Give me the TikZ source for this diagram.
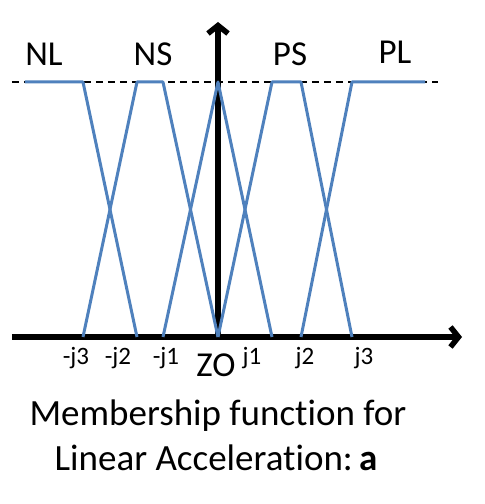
\documentclass[tikz,border=0pt]{standalone}
\usepackage{fontspec}
\setmainfont{Carlito}[Ligatures=NoCommon]
\usepackage{tikz}
\usetikzlibrary{arrows.meta,positioning}

\definecolor{mfblue}{HTML}{4F81BD}

\tikzset{
  mf/.style = {draw=mfblue, line width=3pt, line join=round},
  axis/.style = {line width=5.5pt, -{Straight Barb[length=8pt,width=20pt]}},
  lbl/.style = {font=\fontsize{35}{40}\selectfont, anchor=base, inner sep=0pt},
  tick/.style = {font=\fontsize{25}{28}\selectfont, anchor=base, inner sep=0pt},
  caption/.style = {font=\fontsize{37}{44}\selectfont, anchor=base, inner sep=0pt},
}

\begin{document}
\begin{tikzpicture}[x=1pt, y=1pt]
  \useasboundingbox (-218,-167) rectangle (267,337);

  % points on the axis
  \coordinate (o) at (0,0);
  \coordinate (mj3) at (-135,0);
  \coordinate (mj2) at (-81,0);
  \coordinate (mj1) at (-55,0);
  \coordinate (j1) at (54,0);
  \coordinate (j2) at (83,0);
  \coordinate (j3) at (134,0);
  \coordinate (xl) at (-206,0);
  \coordinate (xr) at (244,0);
  \coordinate (yt) at (0,315);

  % full membership level
  \coordinate (t) at (0,255);
  \coordinate (dl) at (-206,255);
  \coordinate (dr) at (220,255);

  \draw[axis] (xl) -- (xr);
  \draw[axis] (o) -- (yt);
  \draw[line width=2pt, dash pattern=on 7pt off 5pt] (dl) -- (dr);

  % membership functions
  \draw[mf] (-193,255) -- (mj3 |- t) -- (mj2);
  \draw[mf] (mj3) -- (mj2 |- t) -- (mj1 |- t) -- (o);
  \draw[mf] (mj1) -- (t) -- (j1);
  \draw[mf] (o) -- (j1 |- t) -- (j2 |- t) -- (j3);
  \draw[mf] (j2) -- (j3 |- t) -- (207,255);

  \node[lbl] (nl) at (-174,271) {NL};
  \node[lbl] (ns) at (-65,271) {NS};
  \node[lbl] (ps) at (72,271) {PS};
  \node[lbl] (pl) at (177,273) {PL};
  \node[lbl] (zo) at (-2,-39) {ZO};

  \node[tick] (lmj3) at (-142,-27) {-j3};
  \node[tick] (lmj2) at (-100,-27) {-j2};
  \node[tick] (lmj1) at (-52,-27) {-j1};
  \node[tick] (lj1) at (34,-27) {j1};
  \node[tick] (lj2) at (87,-27) {j2};
  \node[tick] (lj3) at (146,-27) {j3};

  \node[caption] (cap1) at (0,-88) {Membership function for};
  \node[caption] (cap2) at (-2,-133) {Linear Acceleration:\,\textbf{a}};
\end{tikzpicture}
\end{document}
